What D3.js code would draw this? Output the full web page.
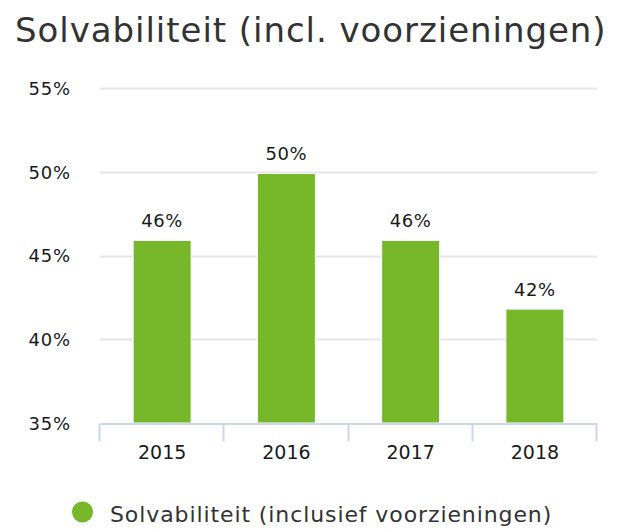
<!DOCTYPE html>
<html>
<head>
<meta charset="utf-8">
<script src="https://cdn.jsdelivr.net/npm/d3@7"></script>
<style>
  body { margin: 0; background: #fff; }
  text { font-family: "DejaVu Sans", Verdana, sans-serif; }
</style>
</head>
<body>
<script>
'use strict';

// chart data
const years = ["2015", "2016", "2017", "2018"];
const solvabiliteit = [45.9, 49.9, 45.9, 41.8];
const valueLabels = ["46%", "50%", "46%", "42%"];
const yTicks = [35, 40, 45, 50, 55];
const seriesName = "Solvabiliteit (inclusief voorzieningen)";
const chartTitle = "Solvabiliteit (incl. voorzieningen)";

const width = 623, height = 529;
const plot = { left: 100, right: 597, top: 88, bottom: 423 };
const green = "#76b82a";

let svg = d3.select('body')
  .append('svg')
  .attr('width', width)
  .attr('height', height);

// title
svg.append('text')
  .attr('x', 15)
  .attr('y', 42)
  .style('font-size', '34px')
  .style('letter-spacing', '0.95px')
  .style('fill', '#333333')
  .text(chartTitle);

// scales
let xScale = d3.scaleBand()
  .domain(years)
  .range([plot.left, plot.right])
  .paddingInner(0)
  .paddingOuter(0);

let yScale = d3.scaleLinear()
  .domain([35, 55])
  .range([plot.bottom, plot.top]);

// gridlines
svg.append('g')
  .selectAll('line')
  .data(yTicks.filter(d => d > 35))
  .enter().append('line')
  .attr('x1', plot.left)
  .attr('x2', plot.right)
  .attr('y1', d => Math.round(yScale(d)) + 0.5)
  .attr('y2', d => Math.round(yScale(d)) + 0.5)
  .style('stroke', '#e6e6e6')
  .style('stroke-width', 2);

// y labels
let yAxis = d3.axisLeft(yScale)
  .tickValues(yTicks)
  .tickFormat(d => d + '%')
  .tickSize(0)
  .tickPadding(0);
let yG = svg.append('g')
  .attr('transform', 'translate(71, 0)')
  .call(yAxis);
yG.select('.domain').remove();
yG.selectAll('text')
  .attr('font-family', null)
  .attr('dy', '0.36em')
  .style('font-size', '18px')
  .style('letter-spacing', '0.8px')
  .style('fill', '#1a1a1a');

// bars
let barW = 58;
svg.append('g')
  .selectAll('rect')
  .data(years)
  .enter().append('rect')
  .attr('x', d => xScale(d) + (xScale.bandwidth() - barW) / 2)
  .attr('width', barW)
  .attr('y', (d, i) => yScale(solvabiliteit[i]))
  .attr('height', (d, i) => yScale(35) - yScale(solvabiliteit[i]))
  .style('fill', green)
  .style('stroke', '#ffffff')
  .style('stroke-width', 1);

// value labels
svg.append('g')
  .selectAll('text')
  .data(years)
  .enter().append('text')
  .attr('x', d => xScale(d) + xScale.bandwidth() / 2)
  .attr('y', (d, i) => yScale(solvabiliteit[i]) - 13)
  .attr('text-anchor', 'middle')
  .style('font-size', '18px')
  .style('letter-spacing', '0.6px')
  .style('fill', '#1a1a1a')
  .text((d, i) => valueLabels[i]);

// x axis
let xAxis = d3.axisBottom(xScale)
  .tickSize(0)
  .tickPadding(0);
let xG = svg.append('g')
  .attr('transform', 'translate(0,' + (plot.bottom + 0.5) + ')')
  .call(xAxis);
xG.select('.domain').style('stroke', '#ccd6eb').style('stroke-width', 2);
xG.selectAll('text')
  .attr('font-family', null)
  .attr('dy', null)
  .attr('y', 35)
  .style('font-size', '19px')
  .style('fill', '#1a1a1a');

// x axis tick marks on band edges
let edges = years.map(d => xScale(d)).concat([plot.right]);
xG.selectAll('.edge')
  .data(edges)
  .enter().append('line')
  .attr('class', 'edge')
  .attr('x1', d => Math.round(d) - 0.5)
  .attr('x2', d => Math.round(d) - 0.5)
  .attr('y1', 0)
  .attr('y2', 18)
  .style('stroke', '#ccd6eb')
  .style('stroke-width', 2);

// legend
let legend = svg.append('g')
  .attr('transform', 'translate(82.5, 512)');
legend.append('circle')
  .attr('r', 10.5)
  .style('fill', green);
legend.append('text')
  .attr('x', 27.5)
  .attr('y', 10)
  .style('font-size', '22px')
  .style('letter-spacing', '0.9px')
  .style('fill', '#333333')
  .text(seriesName);
</script>
</body>
</html>
